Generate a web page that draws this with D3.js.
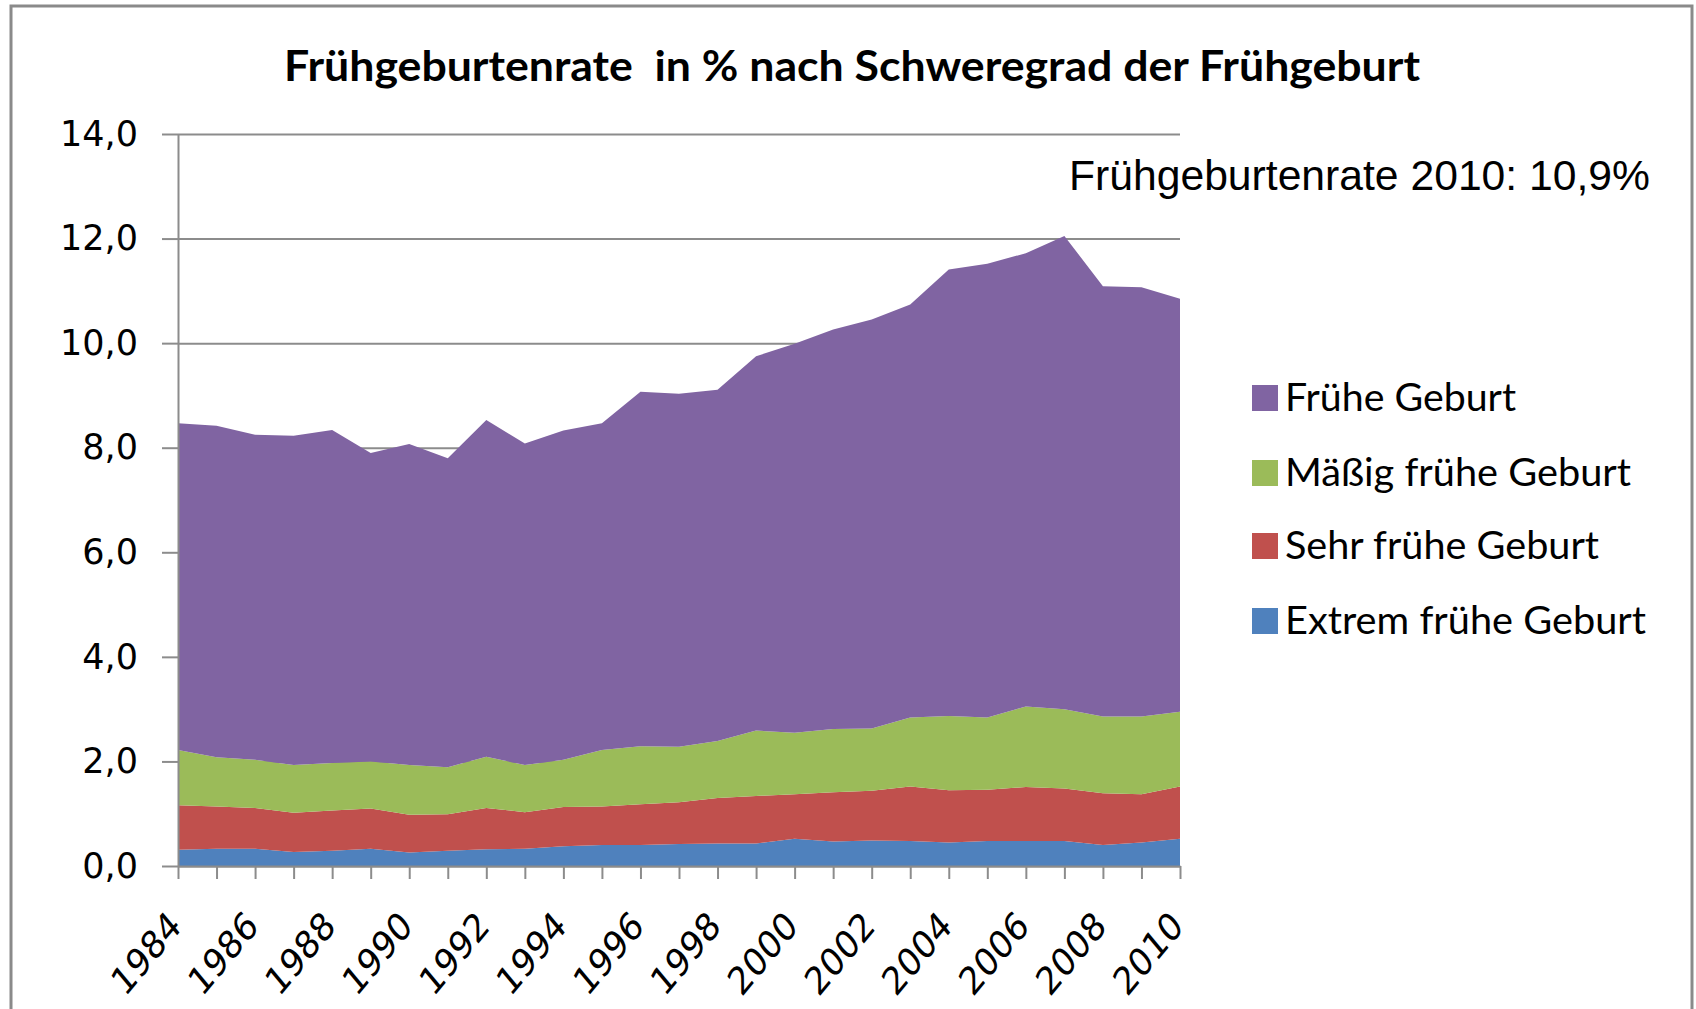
<!DOCTYPE html>
<html>
<head>
<meta charset="utf-8">
<script src="https://cdn.jsdelivr.net/npm/d3@7/dist/d3.min.js"></script>
<style>
    body { margin: 0; background: #fff; }
    svg { display: block; }
    .grid line { stroke: #8c8c8c; stroke-width: 2; }
    .grid path { display: none; }
    .axis path, .axis line { stroke: #8c8c8c; stroke-width: 2; }
    .axis text { font-family: "DejaVu Sans", Verdana, sans-serif; font-size: 35px; fill: #000; }
    .axis .xlabel { font-size: 38px; }
</style>
</head>
<body>
<svg id="chart" width="1696" height="1009"></svg>
<script>
var years = [1984, 1985, 1986, 1987, 1988, 1989, 1990, 1991, 1992, 1993, 1994, 1995, 1996, 1997,
    1998, 1999, 2000, 2001, 2002, 2003, 2004, 2005, 2006, 2007, 2008, 2009, 2010];
var extremFrueh = [0.31, 0.33, 0.33, 0.27, 0.29, 0.33, 0.26, 0.29, 0.32, 0.33, 0.38, 0.40, 0.40, 0.42,
    0.43, 0.43, 0.52, 0.47, 0.49, 0.48, 0.45, 0.48, 0.48, 0.48, 0.40, 0.45, 0.52];
var sehrFrueh = [0.85, 0.81, 0.78, 0.75, 0.77, 0.77, 0.72, 0.70, 0.79, 0.70, 0.75, 0.74, 0.78, 0.80,
    0.87, 0.91, 0.85, 0.94, 0.95, 1.04, 1.00, 0.98, 1.03, 1.00, 0.99, 0.92, 1.00];
var maessigFrueh = [1.06, 0.94, 0.92, 0.91, 0.91, 0.90, 0.95, 0.90, 0.98, 0.90, 0.90, 1.08, 1.11, 1.06,
    1.09, 1.25, 1.18, 1.21, 1.19, 1.32, 1.42, 1.38, 1.54, 1.52, 1.47, 1.49, 1.43];
var frueh = [6.25, 6.34, 6.22, 6.30, 6.37, 5.90, 6.14, 5.91, 6.44, 6.15, 6.30, 6.25, 6.78, 6.75,
    6.72, 7.16, 7.44, 7.64, 7.82, 7.90, 8.54, 8.68, 8.67, 9.05, 8.23, 8.21, 7.90];

var seriesKeys = ['extrem', 'sehr', 'maessig', 'frueh'];
var seriesNames = ['Extrem frühe Geburt', 'Sehr frühe Geburt', 'Mäßig frühe Geburt', 'Frühe Geburt'];
var seriesColors = ['#4F81BD', '#C0504D', '#9BBB59', '#8064A2'];

var yTicks = [0, 2, 4, 6, 8, 10, 12, 14];
var xLabelYears = [1984, 1986, 1988, 1990, 1992, 1994, 1996, 1998, 2000, 2002, 2004, 2006, 2008, 2010];

var titleText = 'Frühgeburtenrate  in % nach Schweregrad der Frühgeburt';
var noteText = 'Frühgeburtenrate 2010: 10,9%';


function StackChart(host) {
    this.svg = d3.select(host);
    this.margin = {left: 178, right: 1180, top: 134, bottom: 866};
    this.init();
}

StackChart.prototype.init = function() {
    this.createData();
    this.createScales();
    this.drawFrame();
    this.drawGrid();
    this.drawAreas();
    this.drawAxes();
    this.drawLegend();
};

StackChart.prototype.createData = function() {
    var cols = [extremFrueh, sehrFrueh, maessigFrueh, frueh];
    this.table = years.map(function(y, i) {
        var row = {year: y};
        seriesKeys.forEach(function(k, j) { row[k] = cols[j][i]; });
        return row;
    });
    this.stacked = d3.stack().keys(seriesKeys)(this.table);
};

StackChart.prototype.createScales = function() {
    this.x = d3.scaleLinear().domain([years[0], years[years.length - 1]])
        .range([this.margin.left, this.margin.right]);
    this.y = d3.scaleLinear().domain([0, 14]).range([this.margin.bottom, this.margin.top]);
};

StackChart.prototype.drawFrame = function() {
    // outer chart border, runs off the bottom of the picture
    this.svg.append('rect').attr('x', 11).attr('y', 6).attr('width', 1681).attr('height', 1100)
        .attr('fill', '#fff').attr('stroke', '#8a8a8a').attr('stroke-width', 3);

    this.svg.append('text').text(titleText)
        .attr('x', 852).attr('y', 81).attr('text-anchor', 'middle')
        .attr('textLength', 1136).attr('lengthAdjust', 'spacingAndGlyphs')
        .style('white-space', 'pre')
        .style('font-family', 'Lato, "Open Sans", sans-serif').style('font-weight', 'bold')
        .style('font-size', '42px').attr('fill', '#000');
};

StackChart.prototype.drawGrid = function() {
    this.svg.append('g').attr('class', 'grid')
        .attr('transform', 'translate(' + this.margin.left + ',0)')
        .call(d3.axisLeft(this.y).tickValues(yTicks)
            .tickSize(-(this.margin.right - this.margin.left)).tickFormat(''));
};

StackChart.prototype.drawAreas = function() {
    var self = this;
    var area = d3.area()
        .x(function(d) { return self.x(d.data.year); })
        .y0(function(d) { return self.y(d[0]); })
        .y1(function(d) { return self.y(d[1]); });
    this.svg.append('g').selectAll('path').data(this.stacked).enter().append('path')
        .attr('d', area)
        .attr('fill', function(d, i) { return seriesColors[i]; });
};

StackChart.prototype.drawAxes = function() {
    var yAxis = d3.axisLeft(this.y).tickValues(yTicks).tickSize(16).tickSizeOuter(0).tickPadding(24)
        .tickFormat(function(d) { return d.toFixed(1).replace('.', ','); });
    this.svg.append('g').attr('class', 'axis')
        .attr('transform', 'translate(' + this.margin.left + ',0)')
        .call(yAxis);

    var xAxis = d3.axisBottom(this.x).tickValues(years).tickSize(13).tickSizeOuter(0).tickFormat('');
    var xg = this.svg.append('g').attr('class', 'axis')
        .attr('transform', 'translate(0,' + this.margin.bottom + ')')
        .call(xAxis);

    var self = this;
    // labels in the original look squeezed sideways, hence the scale
    xg.selectAll('.xlabel').data(xLabelYears).enter().append('text')
        .attr('class', 'xlabel')
        .attr('text-anchor', 'end')
        .attr('transform', function(d) {
            return 'translate(' + (self.x(d) + 5) + ',62) scale(0.85,1.02) rotate(-45)';
        })
        .text(function(d) { return d; });

    this.svg.append('text').text(noteText)
        .attr('x', 1069).attr('y', 190)
        .attr('textLength', 581).attr('lengthAdjust', 'spacingAndGlyphs')
        .style('font-family', '"Liberation Sans", Arial, sans-serif')
        .style('font-size', '42px').attr('fill', '#000');
};

StackChart.prototype.drawLegend = function() {
    var rowsY = [411, 486, 559, 634];
    var widths = [231, 346, 314, 361];
    var order = [3, 2, 1, 0];
    var items = this.svg.append('g').selectAll('g').data(order).enter().append('g')
        .attr('transform', function(d, i) { return 'translate(1252,' + rowsY[i] + ')'; });
    items.append('rect').attr('x', 0).attr('y', -26).attr('width', 26).attr('height', 26)
        .attr('fill', function(d) { return seriesColors[d]; });
    items.append('text').attr('x', 33).attr('y', 0)
        .attr('textLength', function(d, i) { return widths[i]; })
        .attr('lengthAdjust', 'spacingAndGlyphs')
        .style('font-family', 'Lato, "Open Sans", sans-serif')
        .style('font-size', '38px').attr('fill', '#000')
        .text(function(d) { return seriesNames[d]; });
};

new StackChart('#chart');
</script>
</body>
</html>
